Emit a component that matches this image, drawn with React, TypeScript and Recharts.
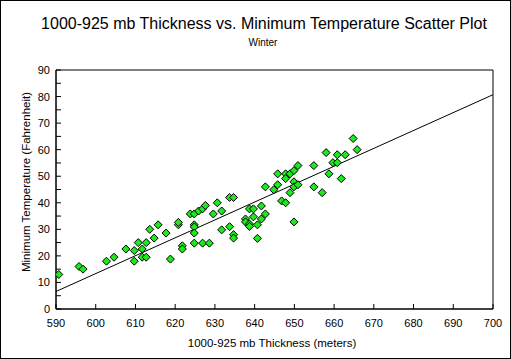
import {
  ReferenceArea,
  ReferenceLine,
  Scatter,
  ScatterChart,
  XAxis,
  YAxis,
} from "recharts";

// thickness (m) of each winter observation
const thickness = [
  590.7, 595.8, 596.8, 602.7, 604.6, 607.6, 609.7, 609.7, 610.7, 611.7,
  612.7, 611.7, 612.7, 613.6, 614.7, 615.7, 617.7, 618.8, 620.8, 620.8,
  621.8, 621.8, 623.8, 624.8, 624.8, 624.8, 624.8, 624.8, 625.9, 626.9,
  627.6, 626.9, 628.6, 629.6, 630.6, 631.7, 631.7, 633.7, 634.7, 633.7,
  634.7, 634.7, 638.7, 639.7, 637.7, 637.7, 638.7, 638.7, 639.7, 640.7,
  640.7, 641.7, 641.7, 642.7, 642.7, 644.8, 645.8, 645.8, 646.8, 647.8,
  647.8, 647.8, 648.9, 648.9, 649.9, 649.9, 649.9, 649.9, 650.9, 650.9,
  654.9, 654.9, 657.0, 658.0, 658.7, 659.7, 660.8, 660.8, 661.8, 662.8,
  664.8, 665.8,
];

// minimum temperature (F), same order
const minTemp = [
  13, 16, 15, 18, 19.5, 22.6, 22, 18, 25, 22.6,
  25, 19.5, 19.5, 30, 26.7, 31.7, 28.6, 18.8, 31.7, 32.6,
  23.8, 22.6, 35.8, 31.7, 30.9, 35.8, 28.6, 24.8, 36.9, 37.7,
  39, 24.8, 24.8, 35.8, 40, 36.9, 29.8, 42, 42, 31,
  28, 26.7, 37.7, 37.7, 33.9, 32.8, 32, 31.1, 34.7, 31.7,
  26.6, 38.8, 33.9, 35.8, 46, 44.9, 46.8, 50.9, 40.7, 40,
  50.9, 49.1, 43.8, 50.9, 52.1, 47.9, 46, 32.8, 54, 46.8,
  54, 46, 43.8, 58.9, 50.9, 55.1, 58.1, 55.1, 49.1, 58.1,
  64.2, 60,
];

// regression line end points
const fitX = [590, 700];
const fitY = [6.6, 80.7];

const xTicks = [590, 600, 610, 620, 630, 640, 650, 660, 670, 680, 690, 700];
const yTicks = [0, 5, 10, 15, 20, 25, 30, 35, 40, 45, 50, 55, 60, 65, 70, 75, 80, 85, 90];

const FONT = "'Liberation Sans', Arial, sans-serif";

const points = thickness.map((x, i) => ({ x, y: minTemp[i] }));

function Diamond(props: any) {
  const { cx, cy } = props;
  const r = 4;
  return (
    <polygon
      points={`${cx},${cy - r} ${cx + r},${cy} ${cx},${cy + r} ${cx - r},${cy}`}
      fill="#1ee81e"
      stroke="#000"
      strokeWidth={1}
    />
  );
}

function XTick(props: any) {
  const { x, y, payload } = props;
  return (
    <g>
      <line x1={x} y1={y} x2={x} y2={y - 5} stroke="#000" />
      <text x={x} y={y + 18} textAnchor="middle" fontSize={11} fontFamily={FONT} fill="#000">
        {payload.value}
      </text>
    </g>
  );
}

function YTick(props: any) {
  const { x, y, payload } = props;
  const major = payload.value % 10 === 0;
  return (
    <g>
      <line x1={x} y1={y} x2={x + 5} y2={y} stroke="#000" />
      {major && (
        <text x={x - 6} y={y + 4} textAnchor="end" fontSize={11} fontFamily={FONT} fill="#000">
          {payload.value}
        </text>
      )}
    </g>
  );
}

export default function App() {
  return (
    <div
      style={{
        position: "absolute",
        left: 0,
        top: 0,
        width: 511,
        height: 359,
        border: "1px solid #000",
        boxSizing: "border-box",
        background: "#fff",
        fontFamily: FONT,
      }}
    >
      <div
        style={{
          position: "absolute",
          left: 0,
          width: 526,
          top: 13,
          textAlign: "center",
          fontSize: 16,
          lineHeight: "20px",
        }}
      >
        1000-925 mb Thickness vs. Minimum Temperature Scatter Plot
      </div>
      <div
        style={{
          position: "absolute",
          left: 0,
          width: 524,
          top: 36,
          textAlign: "center",
          fontSize: 10,
          lineHeight: "12px",
        }}
      >
        Winter
      </div>
      <div
        style={{
          position: "absolute",
          left: 0,
          width: 542,
          top: 335,
          textAlign: "center",
          fontSize: 11.5,
          lineHeight: "14px",
        }}
      >
        1000-925 mb Thickness (meters)
      </div>
      <div
        style={{
          position: "absolute",
          left: 25,
          top: 181,
          transform: "translate(-50%, -50%) rotate(-90deg)",
          whiteSpace: "nowrap",
          fontSize: 11.5,
          lineHeight: "14px",
        }}
      >
        Minimum Temperature (Fahrenheit)
      </div>
      <ScatterChart
        width={511}
        height={359}
        margin={{ top: 70, right: 18, bottom: 20, left: 15 }}
        style={{ position: "absolute", left: -1, top: -1 }}
      >
        <XAxis
          type="number"
          dataKey="x"
          domain={[590, 700]}
          ticks={xTicks}
          interval={0}
          tickSize={0}
          tickMargin={0}
          tickLine={false}
          axisLine={{ stroke: "#000" }}
          height={30}
          tick={<XTick />}
          allowDataOverflow
        />
        <YAxis
          type="number"
          dataKey="y"
          domain={[0, 90]}
          ticks={yTicks}
          interval={0}
          tickSize={0}
          tickMargin={0}
          tickLine={false}
          axisLine={{ stroke: "#000" }}
          width={41}
          tick={<YTick />}
          allowDataOverflow
        />
        <ReferenceArea x1={590} x2={700} y1={0} y2={90} fill="none" stroke="#000" strokeOpacity={1} fillOpacity={0} />
        <ReferenceLine
          segment={[
            { x: fitX[0], y: fitY[0] },
            { x: fitX[1], y: fitY[1] },
          ]}
          stroke="#000"
          strokeWidth={1}
          ifOverflow="hidden"
        />
        <Scatter data={points} shape={<Diamond />} isAnimationActive={false} />
      </ScatterChart>
    </div>
  );
}
